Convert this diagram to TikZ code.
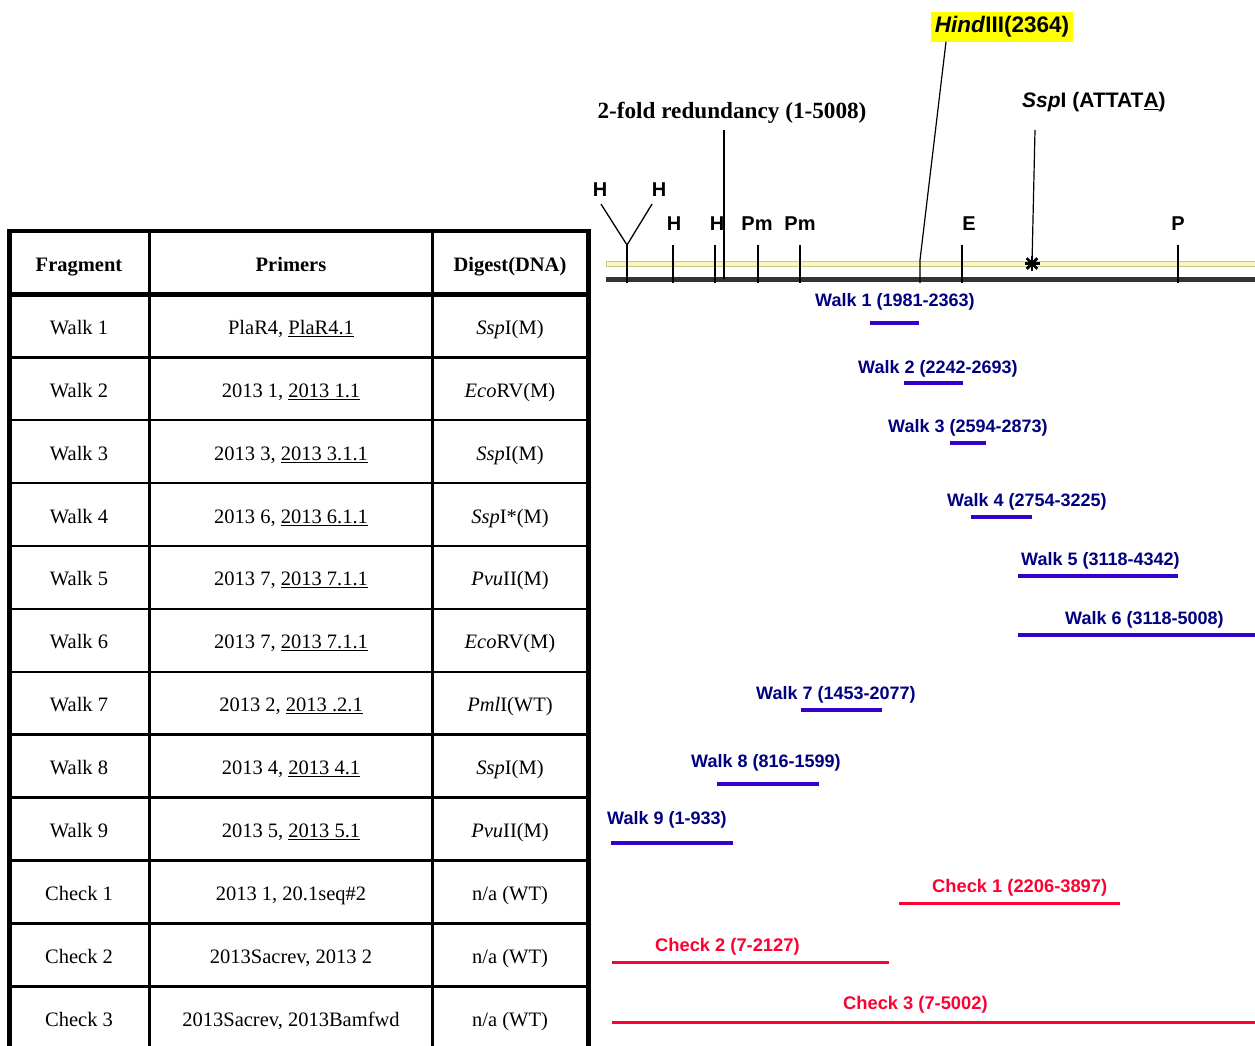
\documentclass[tikz,border=0pt]{standalone}
\usepackage{fontspec}
\setmainfont{Liberation Serif}
\newfontfamily\arialfont{Liberation Sans}

\definecolor{walktext}{RGB}{0,0,128}
\definecolor{walkbar}{RGB}{51,0,204}
\definecolor{checkred}{RGB}{255,0,51}
\definecolor{mapgray}{RGB}{51,51,51}
\definecolor{bandfill}{RGB}{248,248,190}
\definecolor{bandedge}{RGB}{200,200,140}
\definecolor{hilite}{RGB}{255,255,0}

\tikzset{
  cell/.style={font=\fontsize{20.5}{24}\selectfont, inner sep=0pt, anchor=base},
  headcell/.style={font=\bfseries\fontsize{20.5}{24}\selectfont, inner sep=0pt, anchor=base},
  outerrule/.style={line width=4.5pt},
  innerrule/.style={line width=2.5pt},
  site/.style={font=\arialfont\bfseries\fontsize{20}{24}\selectfont, inner sep=0pt},
  cuttick/.style={line width=1.3pt},
  walklabel/.style={font=\arialfont\bfseries\fontsize{18}{22}\selectfont, text=walktext, anchor=west, inner sep=0pt},
  checklabel/.style={font=\arialfont\bfseries\fontsize{18.3}{22}\selectfont, text=checkred, anchor=west, inner sep=0pt},
  walkline/.style={draw=walkbar, line width=3.5pt},
  checkline/.style={draw=checkred, line width=3pt},
}

\begin{document}
\begin{tikzpicture}[x=1pt,y=-1pt]
\useasboundingbox (0,0) rectangle (1255,1045);

% ---------- table of fragments ----------
\foreach \r in {0,...,10}
  \draw[innerrule] (9.5,357.3+62.9*\r) -- (588.5,357.3+62.9*\r);
\draw[innerrule] (149.5,231) -- (149.5,1060);
\draw[innerrule] (432.5,231) -- (432.5,1060);
\draw[outerrule] (9.5,294.5) -- (588.5,294.5);
\draw[outerrule] (9.5,1060) -- (9.5,231) -- (588.5,231) -- (588.5,1060);

\node[headcell] (hfrag) at (79,271) {Fragment};
\node[headcell] (hprim) at (291,271) {Primers};
\node[headcell] (hdig)  at (510,271) {Digest(DNA)};

\foreach \i/\f/\p/\d in {
  1/{Walk 1}/{PlaR4, \underline{PlaR4.1}}/{\textit{Ssp}I(M)},
  2/{Walk 2}/{2013 1, \underline{2013 1.1}}/{\textit{Eco}RV(M)},
  3/{Walk 3}/{2013 3, \underline{2013 3.1.1}}/{\textit{Ssp}I(M)},
  4/{Walk 4}/{2013 6, \underline{2013 6.1.1}}/{\textit{Ssp}I*(M)},
  5/{Walk 5}/{2013 7, \underline{2013 7.1.1}}/{\textit{Pvu}II(M)},
  6/{Walk 6}/{2013 7, \underline{2013 7.1.1}}/{\textit{Eco}RV(M)},
  7/{Walk 7}/{2013 2, \underline{2013 .2.1}}/{\textit{Pml}I(WT)},
  8/{Walk 8}/{2013 4, \underline{2013 4.1}}/{\textit{Ssp}I(M)},
  9/{Walk 9}/{2013 5, \underline{2013 5.1}}/{\textit{Pvu}II(M)},
  10/{Check 1}/{2013 1, 20.1seq\#2}/{n/a (WT)},
  11/{Check 2}/{2013Sacrev, 2013 2}/{n/a (WT)},
  12/{Check 3}/{2013Sacrev, 2013Bamfwd}/{n/a (WT)}}
{
  \pgfmathsetmacro{\yb}{334.3+62.9*(\i-1)}
  \node[cell] (f\i) at (79,\yb) {\f};
  \node[cell] (p\i) at (291,\yb) {\p};
  \node[cell] (d\i) at (510,\yb) {\d};
}

% ---------- restriction map ----------
\fill[bandfill, draw=bandedge, line width=0.9pt] (606,261.5) rectangle (1257,266.5);
\fill[mapgray] (606,277) rectangle (1257,282);

% cut-site ticks
\foreach \x in {673,715,758,800,962,1178}
  \draw[cuttick] (\x,245) -- (\x,283);

% paired HindIII sites joined in a Y
\node[site] (hA) at (600,190) {H};
\node[site] (hB) at (659,190) {H};
\coordinate (yj) at (627,245);
\draw[cuttick] ([xshift=1pt,yshift=-7pt]hA.south) -- (yj);
\draw[cuttick] ([xshift=-7pt,yshift=-7pt]hB.south) -- (yj);
\draw[cuttick] (yj) -- (627,283);

\node[site] (h3) at (674,224) {H};
\node[site] (h4) at (717,224) {H};
\node[site] (pm1) at (757,224) {Pm};
\node[site] (pm2) at (800,224) {Pm};
\node[site] (e1) at (969,224) {E};
\node[site] (p1site) at (1178,224) {P};

% redundancy marker
\node[font=\bfseries\fontsize{23.2}{27}\selectfont, inner sep=0pt] (redund) at (732,113) {2-fold redundancy (1-5008)};
\coordinate (twofold) at (724,279);
\draw[line width=1.5pt] (724,130) -- (twofold);

% HindIII site
\node[fill=hilite, inner sep=0pt, minimum width=142pt, minimum height=30pt,
      font=\arialfont\bfseries\fontsize{22.5}{26}\selectfont] (hind) at (1002,26.5) {\textit{Hind}III(2364)};
\coordinate (hindbend) at (920,260);
\coordinate (hindsite) at (920,283);
\draw[line width=1.2pt] ([xshift=-56pt]hind.south) -- (hindbend) -- (hindsite);

% SspI site
\node[site, font=\arialfont\bfseries\fontsize{21}{25}\selectfont, anchor=west] (ssp) at (1022,102) {\textit{Ssp}I (ATTAT\underline{A})};
\coordinate (sspsite) at (1032,263.5);
\draw[line width=1.2pt] (1035,130) -- (sspsite);
\foreach \a in {0,45,90,135}
  \draw[line width=2.8pt] (sspsite) ++(\a:7.5) -- ++(\a+180:15);

% ---------- walks ----------
\foreach \n/\txt/\lx/\ly/\ba/\bb/\by in {
  w1/{Walk 1 (1981-2363)}/815/301.5/870/919/323,
  w2/{Walk 2 (2242-2693)}/858/368.5/904/963/383,
  w3/{Walk 3 (2594-2873)}/888/427.5/950/986/443,
  w4/{Walk 4 (2754-3225)}/947/501.5/971/1032/517,
  w5/{Walk 5 (3118-4342)}/1021/560.5/1018/1178/576,
  w6/{Walk 6 (3118-5008)}/1065/619.5/1018/1257/635,
  w7/{Walk 7 (1453-2077)}/756/694.5/801/882/710,
  w8/{Walk 8 (816-1599)}/691/762.5/717/819/784,
  w9/{Walk 9 (1-933)}/607/819.5/611/733/843}
{
  \node[walklabel] (\n) at (\lx,\ly) {\txt};
  \draw[walkline] (\ba,\by) -- (\bb,\by);
}

% ---------- checks ----------
\foreach \n/\txt/\lx/\ly/\ba/\bb/\by in {
  c1/{Check 1 (2206-3897)}/932/887.5/899/1120/903,
  c2/{Check 2 (7-2127)}/655/946.5/612/889/962,
  c3/{Check 3 (7-5002)}/843/1004.5/612/1257/1022}
{
  \node[checklabel] (\n) at (\lx,\ly) {\txt};
  \draw[checkline] (\ba,\by) -- (\bb,\by);
}
\end{tikzpicture}
\end{document}
